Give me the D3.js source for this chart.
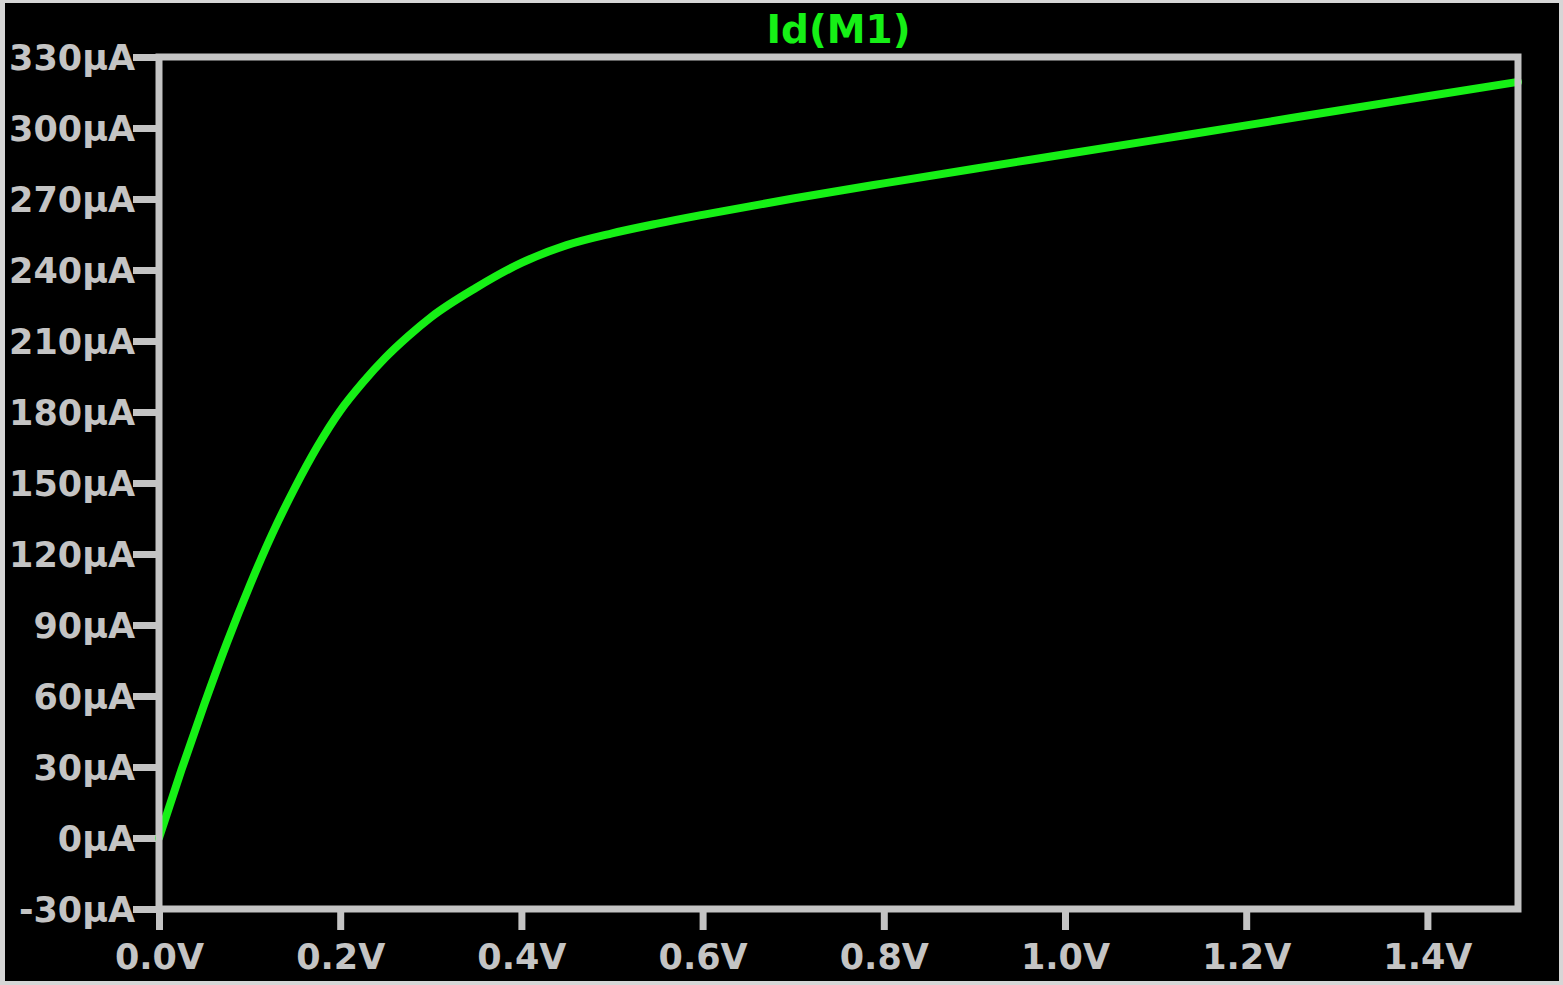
<!DOCTYPE html>
<html>
<head>
<meta charset="utf-8">
<script src="https://cdn.jsdelivr.net/npm/d3@7"></script>
<style>
  html, body { margin: 0; padding: 0; background: #d6d6d6; }
  svg { display: block; }
</style>
</head>
<body>
<svg id="chart" width="1563" height="985"></svg>
<script>
// ---- data ----
const title = "Id(M1)";
const vds = [0, 0.025, 0.05, 0.075, 0.1, 0.125, 0.15, 0.175, 0.2, 0.225, 0.25, 0.275, 0.3, 0.35, 0.4, 0.45, 0.5, 0.55, 0.6, 0.7, 0.8, 0.9, 1.0, 1.1, 1.2, 1.3, 1.4, 1.5];
const idUA = [0, 29, 56.5, 82.5, 106.5, 128.5, 148, 165.5, 180.5, 192.5, 203, 212, 220, 232.5, 243, 250.5, 255.5, 259.6, 263.3, 270.2, 276.6, 282.8, 288.9, 295, 301.1, 307.3, 313.4, 319.5];
const xTicks = [0, 0.2, 0.4, 0.6, 0.8, 1.0, 1.2, 1.4];
const yTicks = [-30, 0, 30, 60, 90, 120, 150, 180, 210, 240, 270, 300, 330];

// ---- layout ----
const W = 1563, H = 985;
const pL = 159, pR = 1518, pT = 57, pB = 909;
const gray = "#c4c4c4";
const green = "#16f016";
const font = "'DejaVu Sans', Verdana, sans-serif";

const svg = d3.select("#chart");
svg.append("rect").attr("x", 5).attr("y", 3).attr("width", W - 9).attr("height", H - 7).attr("fill", "#000");

const x = d3.scaleLinear().domain([0, 1.5]).range([pL, pR]);
const y = d3.scaleLinear().domain([-30, 330]).range([pB, pT]);

// y axis ticks + labels
const yAxis = d3.axisLeft(y).tickValues(yTicks).tickSize(26).tickPadding(0)
  .tickFormat(d => d + "μA");
const gy = svg.append("g").attr("transform", `translate(${pL},0)`).call(yAxis);
gy.select(".domain").remove();
gy.selectAll(".tick line").attr("stroke", gray).attr("stroke-width", 7);
gy.selectAll(".tick text").attr("fill", gray).attr("font-family", font)
  .attr("font-weight", "bold").attr("font-size", 35).attr("x", -24).attr("dy", "0.36em");

// x axis ticks + labels
const xAxis = d3.axisBottom(x).tickValues(xTicks).tickSize(21).tickPadding(0)
  .tickFormat(d => d3.format(".1f")(d) + "V");
const gx = svg.append("g").attr("transform", `translate(0,${pB})`).call(xAxis);
gx.select(".domain").remove();
gx.selectAll(".tick line").attr("stroke", gray).attr("stroke-width", 7);
gx.selectAll(".tick text").attr("fill", gray).attr("font-family", font)
  .attr("font-weight", "bold").attr("font-size", 35).attr("y", 60).attr("dy", 0);

// curve
const line = d3.line().x((d, i) => x(vds[i])).y(d => y(d)).curve(d3.curveMonotoneX);
svg.append("path").datum(idUA).attr("d", line)
  .attr("fill", "none").attr("stroke", green).attr("stroke-width", 8)
  .attr("stroke-linejoin", "round").attr("stroke-linecap", "round");

// frame
svg.append("rect").attr("x", pL).attr("y", pT)
  .attr("width", pR - pL).attr("height", pB - pT)
  .attr("fill", "none").attr("stroke", gray).attr("stroke-width", 7);

// title
svg.append("text").attr("x", (pL + pR) / 2).attr("y", 43)
  .attr("text-anchor", "middle").attr("fill", green)
  .attr("font-family", font).attr("font-weight", "bold").attr("font-size", 39)
  .text(title);
</script>
</body>
</html>
